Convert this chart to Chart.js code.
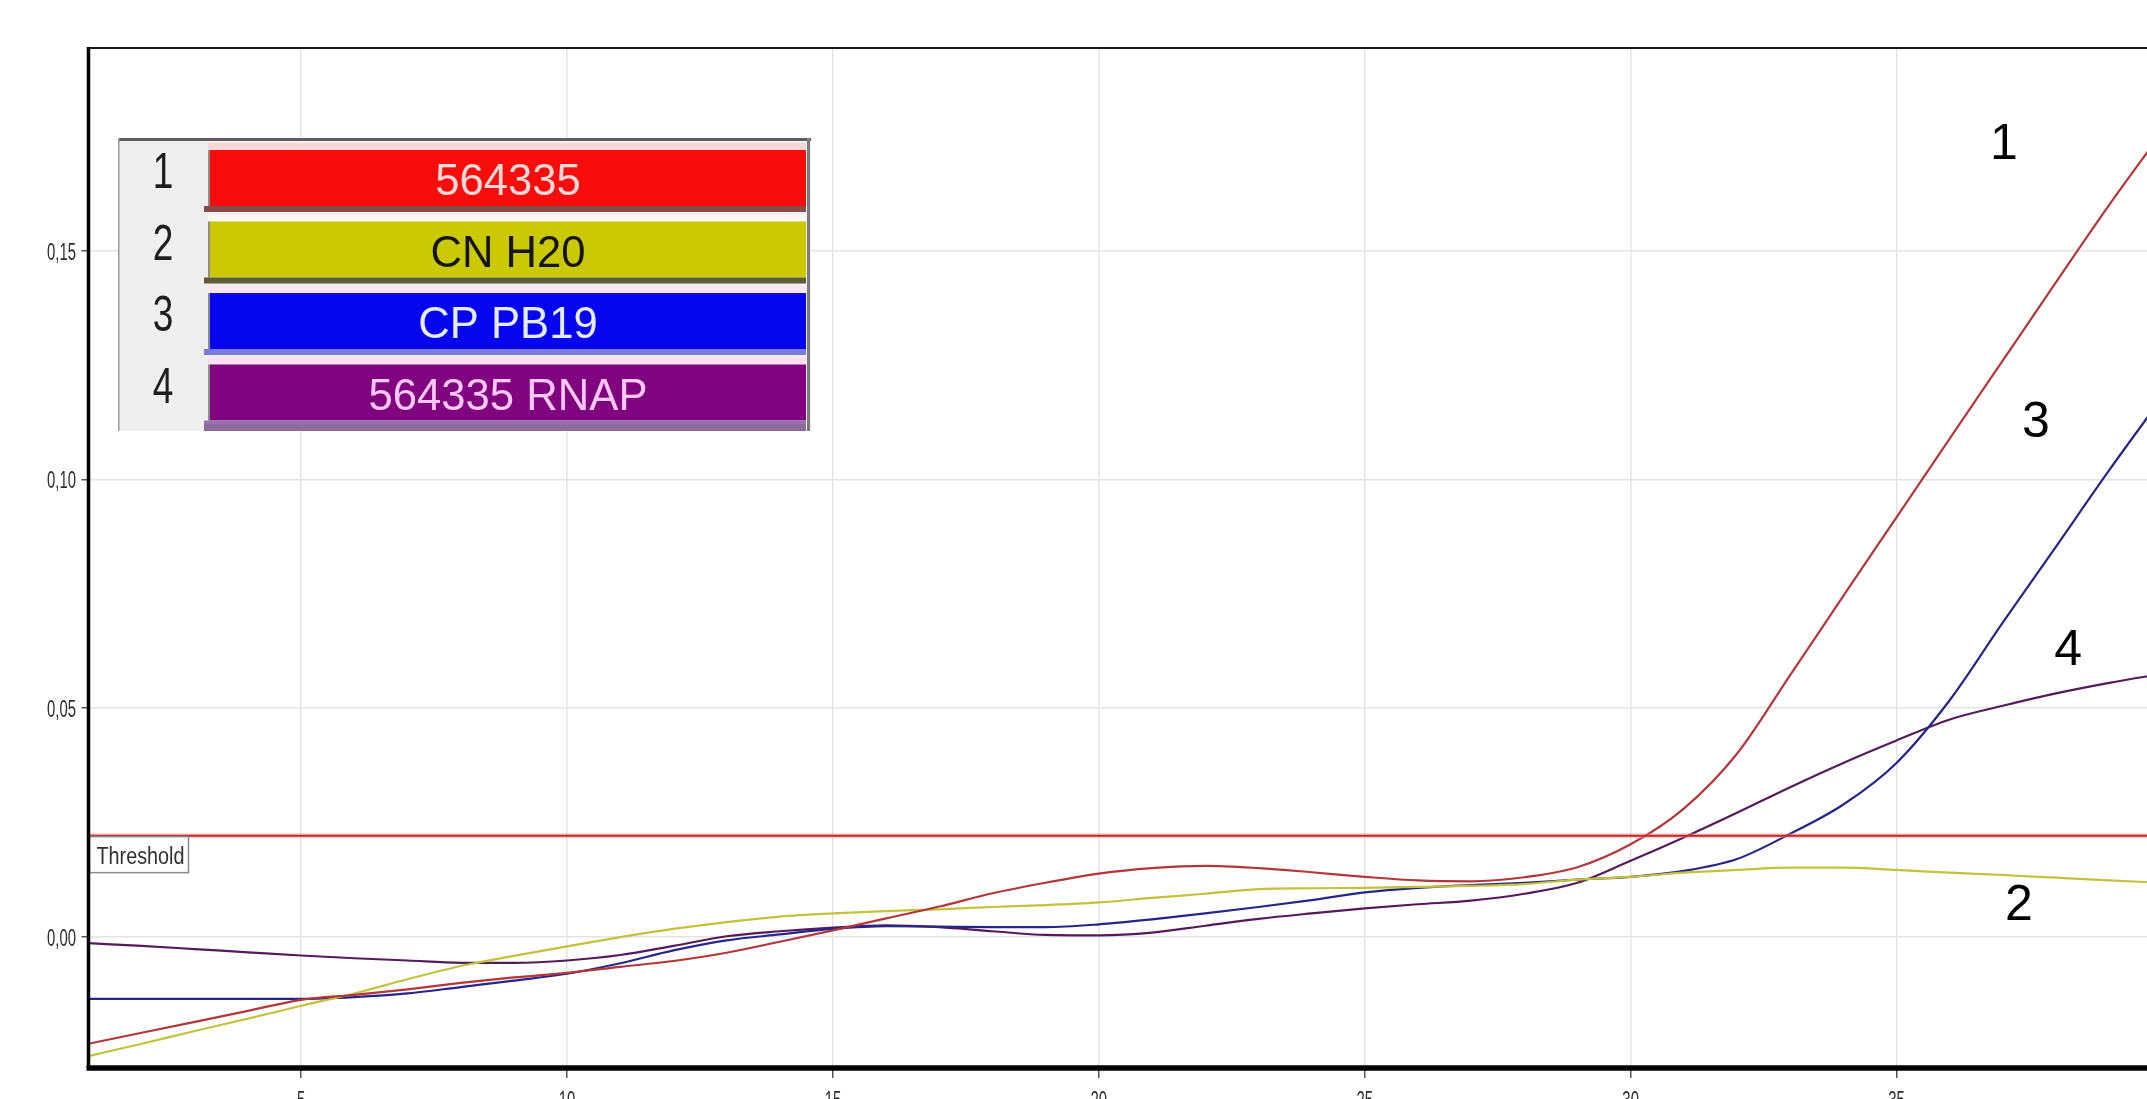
<!DOCTYPE html>
<html>
<head>
<meta charset="utf-8">
<script src="https://cdn.jsdelivr.net/npm/chart.js@4.4.1/dist/chart.umd.min.js"></script>
<style>
  html, body { margin: 0; padding: 0; background: #fff; overflow: hidden; width: 2147px; height: 1099px; }
  #wrap { position: absolute; left: 0; top: 0; width: 2200px; height: 1130px; }
  canvas { display: block; }
</style>
</head>
<body>
<div id="wrap"><canvas id="pcr" width="2200" height="1130"></canvas></div>
<script>
// Amplification cycles
const cycles = [1, 2, 3, 4, 5, 6, 7, 8, 9, 10, 11, 12, 13, 14, 15, 16, 17, 18, 19, 20,
                21, 22, 23, 24, 25, 26, 27, 28, 29, 30, 31, 32, 33, 34, 35, 36, 37, 38, 39, 40];

// Sample names and their tube numbers
const sampleNames = ['564335', 'CN H20', 'CP PB19', '564335 RNAP'];
const sampleNumbers = ['1', '2', '3', '4'];

// Normalised fluorescence per cycle
const sample564335 = [-0.0234, -0.0210, -0.0186, -0.0162, -0.0138, -0.0127, -0.0115, -0.0101, -0.0089, -0.0079,
                      -0.0066, -0.0053, -0.0035, -0.0011, 0.0014, 0.0040, 0.0066, 0.0095, 0.0118, 0.0138,
                      0.0150, 0.0155, 0.0150, 0.0141, 0.0131, 0.0123, 0.0121, 0.0130, 0.0152, 0.0202,
                      0.0280, 0.0400, 0.0572, 0.0745, 0.0917, 0.1089, 0.1260, 0.1431, 0.1600, 0.1760];
const sampleCnH20 = [-0.0261, -0.0234, -0.0206, -0.0179, -0.0151, -0.0124, -0.0093, -0.0064, -0.0042, -0.0021,
                     -0.0001, 0.0017, 0.0032, 0.0044, 0.0051, 0.0056, 0.0060, 0.0065, 0.0069, 0.0075,
                     0.0085, 0.0094, 0.0104, 0.0106, 0.0107, 0.0109, 0.0111, 0.0115, 0.0125, 0.0131,
                     0.0140, 0.0146, 0.0151, 0.0151, 0.0146, 0.0140, 0.0135, 0.0129, 0.0123, 0.0118];
const sampleCpPb19 = [-0.0136, -0.0136, -0.0136, -0.0136, -0.0136, -0.0132, -0.0124, -0.0110, -0.0096, -0.0081,
                      -0.0058, -0.0030, -0.0008, 0.0005, 0.0017, 0.0023, 0.0022, 0.0021, 0.0021, 0.0027,
                      0.0038, 0.0051, 0.0065, 0.0080, 0.0097, 0.0107, 0.0113, 0.0118, 0.0125, 0.0131,
                      0.0144, 0.0170, 0.0225, 0.0289, 0.0380, 0.0517, 0.0687, 0.0853, 0.1020, 0.1180];
const sample564335Rnap = [-0.0014, -0.0020, -0.0027, -0.0034, -0.0041, -0.0047, -0.0052, -0.0057, -0.0057, -0.0052,
                          -0.0040, -0.0020, 0.0001, 0.0012, 0.0020, 0.0025, 0.0021, 0.0012, 0.0004, 0.0003,
                          0.0009, 0.0024, 0.0039, 0.0051, 0.0062, 0.0071, 0.0079, 0.0094, 0.0118, 0.0166,
                          0.0217, 0.0271, 0.0327, 0.0380, 0.0429, 0.0475, 0.0505, 0.0532, 0.0555, 0.0575];

// Threshold level
const thresholdValue = 0.0221;
const thresholdLabel = 'Threshold';

// Axis ticks
const xTicks = [5, 10, 15, 20, 25, 30, 35, 40];
const yTicks = [0, 0.05, 0.10, 0.15];

// Curve tags placed next to the curve ends (cycle, fluorescence)
const curveTags = [
  { text: '1', x: 37.02, y: 0.1700 },
  { text: '3', x: 37.62, y: 0.1092 },
  { text: '4', x: 38.23, y: 0.0594 },
  { text: '2', x: 37.30, y: 0.0036 }
];

const lineColors = ['#b3363a', '#c4c23a', '#262688', '#561a5c'];
const swatchColors = [
  { top: '#ffd6d6', main: '#f80d0d', bottom: '#8a4848', text: '#ffd8d8' },
  { top: '#fff6f6', main: '#cbc903', bottom: '#5e5c34', text: '#151515' },
  { top: '#fbe6f6', main: '#0606ee', bottom: '#7c7cd8', text: '#e6ecff' },
  { top: '#fbe0f4', main: '#800480', bottom: '#9a72b0', text: '#ffc8f6' }
];

const series = [sample564335, sampleCnH20, sampleCpPb19, sample564335Rnap];
const baseFont = "'Liberation Sans', Arial, sans-serif";

const datasets = series.map((vals, i) => ({
  label: sampleNames[i],
  data: cycles.map((c, k) => ({ x: c, y: vals[k] })),
  borderColor: lineColors[i],
  borderWidth: 2.2,
  pointRadius: 0,
  fill: false,
  cubicInterpolationMode: 'monotone'
}));

// Text squeezed horizontally, like the instrument's narrow UI font
function narrowText(ctx, text, x, y, size, sx, align, color) {
  ctx.save();
  ctx.translate(x, y);
  ctx.scale(sx, 1);
  ctx.font = size + 'px ' + baseFont;
  ctx.textAlign = align;
  ctx.textBaseline = 'alphabetic';
  ctx.fillStyle = color;
  ctx.fillText(text, 0, 0);
  ctx.restore();
}

const decorPlugin = {
  id: 'decor',
  afterDatasetsDraw(chart) {
    const { ctx, chartArea: a, scales } = chart;
    const yT = scales.y.getPixelForValue(thresholdValue);
    ctx.save();
    // threshold line
    ctx.strokeStyle = 'rgba(240,150,150,0.45)';
    ctx.lineWidth = 5;
    ctx.beginPath(); ctx.moveTo(a.left, yT); ctx.lineTo(a.right, yT); ctx.stroke();
    ctx.strokeStyle = '#c82424';
    ctx.lineWidth = 2;
    ctx.beginPath(); ctx.moveTo(a.left, yT); ctx.lineTo(a.right, yT); ctx.stroke();
    // threshold tag
    ctx.fillStyle = '#ffffff';
    ctx.fillRect(a.left + 1, yT + 1, 99, 36);
    ctx.strokeStyle = '#8a8a8a';
    ctx.lineWidth = 1.5;
    ctx.strokeRect(a.left + 1, yT + 1, 99, 36);
    ctx.restore();
    narrowText(ctx, thresholdLabel, a.left + 8, yT + 28, 23, 0.86, 'left', '#303030');
  },
  afterDraw(chart) {
    const { ctx, chartArea: a, scales } = chart;
    ctx.save();
    // plot frame
    ctx.strokeStyle = '#1a1a1a';
    ctx.lineWidth = 2;
    ctx.beginPath(); ctx.moveTo(a.left, a.top); ctx.lineTo(a.right, a.top); ctx.stroke();
    ctx.beginPath(); ctx.moveTo(a.right, a.top); ctx.lineTo(a.right, a.bottom); ctx.stroke();
    ctx.strokeStyle = '#000000';
    ctx.lineWidth = 3.5;
    ctx.beginPath(); ctx.moveTo(a.left, a.top - 1); ctx.lineTo(a.left, a.bottom); ctx.stroke();
    ctx.lineWidth = 5.5;
    ctx.beginPath(); ctx.moveTo(a.left - 2, a.bottom); ctx.lineTo(a.right, a.bottom); ctx.stroke();
    ctx.restore();

    // tick labels, placed from the scales
    scales.y.ticks.forEach(t => {
      const py = scales.y.getPixelForValue(t.value);
      narrowText(ctx, t.value.toFixed(2).replace('.', ','), 76, py + 9, 24, 0.62, 'right', '#2c2c2c');
    });
    scales.x.ticks.forEach(t => {
      const px = scales.x.getPixelForValue(t.value);
      narrowText(ctx, String(t.value), px, a.bottom + 40, 24, 0.62, 'center', '#2c2c2c');
    });

    // sample legend panel
    ctx.save();
    const bx = 118, by = 138, bw = 693, bh = 293;
    ctx.fillStyle = '#efefef';
    ctx.fillRect(bx, by, bw, bh);
    ctx.fillStyle = '#5e5e5e';
    ctx.fillRect(bx, by, bw, 3);
    ctx.fillStyle = '#9a9a9a';
    ctx.fillRect(bx, by, 1.5, bh);
    ctx.fillStyle = '#7a7a7a';
    ctx.fillRect(bx + bw - 4, by, 3, bh);
    const barL = 210, barR = 806;
    for (let i = 0; i < sampleNames.length; i++) {
      const y0 = 143 + i * 71.5;
      const sc = swatchColors[i];
      ctx.fillStyle = sc.top;
      ctx.fillRect(barL - 2, y0, barR - barL + 2, 7);
      ctx.fillStyle = sc.main;
      ctx.fillRect(barL, y0 + 7, barR - barL, 56);
      ctx.fillStyle = sc.bottom;
      ctx.fillRect(barL - 6, y0 + 63, barR - barL + 6, 6);
      ctx.fillStyle = 'rgba(60,60,60,0.55)';
      ctx.fillRect(barL - 2, y0 + 7, 2, 56);
      narrowText(ctx, sampleNumbers[i], 163, y0 + 45, 50, 0.74, 'center', '#1e1e1e');
      narrowText(ctx, sampleNames[i], (barL + barR) / 2, y0 + 52, 45, 0.97, 'center', sc.text);
    }
    // top of the next (hidden) row
    ctx.fillStyle = '#8c6c9c';
    ctx.fillRect(barL - 6, 424, barR - barL + 6, 7);
    ctx.restore();

    // curve tags
    curveTags.forEach(t => {
      narrowText(ctx, t.text, scales.x.getPixelForValue(t.x), scales.y.getPixelForValue(t.y), 50, 1, 'center', '#000000');
    });
  }
};

new Chart(document.getElementById('pcr'), {
  type: 'line',
  data: { datasets },
  options: {
    responsive: false,
    animation: false,
    devicePixelRatio: 1,
    layout: { padding: { top: 48, right: 37.6, bottom: 0, left: 0 } },
    plugins: { legend: { display: false }, tooltip: { enabled: false }, title: { display: false } },
    scales: {
      x: {
        type: 'linear',
        min: 1,
        max: 40,
        afterBuildTicks: s => { s.ticks = xTicks.map(v => ({ value: v })); },
        afterFit: s => { s.height = 62; },
        border: { display: false },
        grid: { color: '#e4e4e4', lineWidth: 1.5, tickColor: '#555', tickLength: 10, tickWidth: 1.5 },
        ticks: { display: false }
      },
      y: {
        type: 'linear',
        min: -0.0287,
        max: 0.1943,
        afterBuildTicks: s => { s.ticks = yTicks.map(v => ({ value: v })); },
        afterFit: s => { s.width = 88.5; },
        border: { display: false },
        grid: { color: '#e4e4e4', lineWidth: 1.5, tickColor: '#555', tickLength: 7, tickWidth: 1.5 },
        ticks: { display: false }
      }
    }
  },
  plugins: [decorPlugin]
});
</script>
</body>
</html>
